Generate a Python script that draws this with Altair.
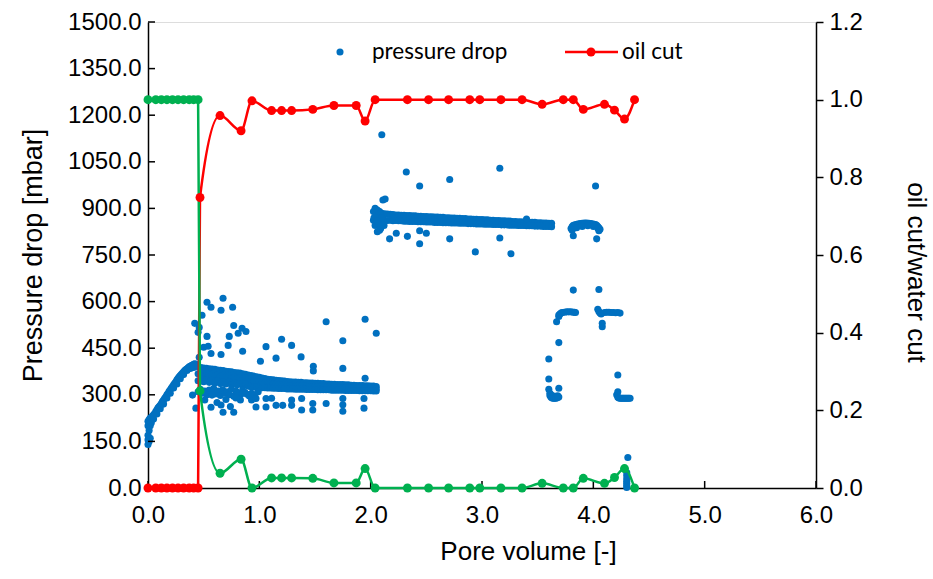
import altair as alt
import pandas as pd

# ---------------- pressure drop (mbar) vs pore volume ----------------
ramp_x = [0.00, 0.00, 0.00, 0.00, 0.00, 0.01, 0.01, 0.01, 0.02, 0.02, 0.02, 0.03, 0.03,
          0.04, 0.05, 0.06, 0.07, 0.08, 0.09, 0.10, 0.11, 0.12, 0.13, 0.14, 0.15, 0.16,
          0.17, 0.18, 0.19, 0.20, 0.21, 0.22, 0.23, 0.24, 0.25, 0.26, 0.27, 0.28, 0.29,
          0.30, 0.31, 0.32, 0.33, 0.34, 0.35, 0.36, 0.37, 0.38, 0.39, 0.40, 0.41, 0.42,
          0.43, 0.44]
ramp_y = [140, 155, 170, 200, 215, 150, 185, 220, 160, 200, 225, 210, 228,
          232, 236, 240, 246, 252, 258, 262, 266, 272, 278, 283, 289, 294,
          300, 305, 311, 316, 322, 327, 332, 337, 342, 348, 353, 358, 362,
          366, 370, 374, 378, 381, 384, 387, 390, 392, 394, 396, 398, 400,
          398, 395]
ramp2_x = [0.05, 0.08, 0.11, 0.14, 0.17, 0.20, 0.23, 0.26, 0.29, 0.32, 0.35, 0.38, 0.41]
ramp2_y = [222, 238, 255, 270, 290, 305, 322, 335, 352, 365, 378, 385, 388]

band2_x = [0.450, 0.475, 0.500, 0.525, 0.550, 0.575, 0.600, 0.625, 0.650, 0.675, 0.700,
           0.725, 0.750, 0.775, 0.800, 0.825, 0.850, 0.875, 0.900, 0.925, 0.950, 0.975,
           1.000, 1.025, 1.050, 1.075, 1.100, 1.125, 1.150, 1.175, 1.200, 1.225, 1.250,
           1.275, 1.300, 1.325, 1.350, 1.375, 1.400, 1.425, 1.450, 1.475, 1.500, 1.525,
           1.550, 1.575, 1.600, 1.625, 1.650, 1.675, 1.700, 1.725, 1.750, 1.775, 1.800,
           1.825, 1.850, 1.875, 1.900, 1.925, 1.950, 1.975, 2.000, 2.025, 2.050]
band2_top = [390, 388, 386, 385, 384, 383, 382, 380, 379, 378, 376, 375, 374, 372, 371, 370,
             368, 366, 364,
             362, 360, 358, 356, 354, 352, 350, 349, 348, 347, 346, 345, 344, 343, 342, 341,
             341, 340, 340, 339, 339, 338, 338, 337, 337, 336, 336, 335, 335, 334, 334, 333,
             333, 333, 332, 332, 331, 331, 330, 330, 330, 329, 329, 328, 328, 327]
band2_mid = [368, 372, 365, 370, 362, 366, 360, 364, 358, 362, 356, 360, 354, 357, 352, 355,
             350, 353, 348,
             344, 342, 341, 340, 339, 338, 337, 336, 335, 334, 333, 332, 332, 331, 330, 330,
             329, 329, 328, 328, 327, 327, 326, 326, 326, 325, 325, 325, 324, 324, 324, 323,
             323, 323, 322, 322, 322, 322, 321, 321, 321, 320, 320, 320, 320, 319]
band2_low = [345, 350, 342, 348, 340, 346, 338, 344, 336, 342, 335, 340, 333, 338, 332, 336,
             330, 334, 328,
             326, 325, 324, 324, 323, 323, 322, 322, 321, 321, 320, 320, 320, 319, 319, 319,
             318, 318, 318, 318, 317, 317, 317, 317, 316, 316, 316, 316, 316, 315, 315, 315,
             315, 315, 314, 314, 314, 314, 314, 313, 313, 313, 313, 313, 312, 312]
deep_x = [0.45, 0.47, 0.49, 0.51, 0.53, 0.55, 0.57, 0.59, 0.61, 0.63, 0.65, 0.67, 0.69, 0.71,
          0.73, 0.75, 0.77, 0.79, 0.81, 0.83, 0.85, 0.87, 0.89, 0.91, 0.93, 0.96, 0.99]
deep_y = [310, 318, 305, 312, 300, 315, 308, 320, 303, 312, 298, 316, 305, 310,
          300, 318, 295, 312, 306, 300, 315, 308, 302, 296, 305, 300, 310]
out2_x = [0.42, 0.45, 0.46, 0.485, 0.50, 0.53, 0.53, 0.54, 0.566, 0.566, 0.656, 0.656, 0.674,
          0.72, 0.73, 0.76, 0.77, 0.81, 0.845, 0.85, 0.88, 0.46, 1.01, 1.06, 1.15, 1.20,
          1.29, 1.375, 1.485, 1.485, 1.60, 1.75, 1.75, 1.95, 1.95, 2.05]
out2_y = [530, 501, 517, 556, 453, 598, 488, 456, 582, 433, 572, 430, 611,
          459, 488, 582, 523, 498, 514, 440, 504, 421, 408, 455, 418, 479,
          459, 422, 392, 377, 535, 474, 385, 543, 353, 498]
low2_x = [0.40, 0.43, 0.51, 0.566, 0.575, 0.656, 0.674, 0.77, 0.83, 0.85, 0.93, 0.97, 0.97,
          1.06, 1.06, 1.11, 1.15, 1.21, 1.29, 1.29, 1.38, 1.38, 1.48, 1.48, 1.60, 1.75,
          1.75, 1.75, 1.94, 1.94, 0.62, 0.70, 0.74, 0.79]
low2_y = [299, 257, 283, 260, 299, 267, 244, 244, 283, 305, 283, 288, 261,
          288, 261, 289, 266, 266, 283, 266, 288, 251, 272, 251, 272, 288,
          268, 247, 288, 257, 275, 285, 262, 290]

band3_x = [2.025, 2.050, 2.075, 2.100, 2.125, 2.150, 2.175, 2.200, 2.225, 2.250, 2.275,
           2.300, 2.325, 2.350, 2.375, 2.400, 2.425, 2.450, 2.475, 2.500, 2.525, 2.550,
           2.575, 2.600, 2.625, 2.650, 2.675, 2.700, 2.725, 2.750, 2.775, 2.800, 2.825,
           2.850, 2.875, 2.900, 2.925, 2.950, 2.975, 3.000, 3.025, 3.050, 3.075, 3.100,
           3.125, 3.150, 3.175, 3.200, 3.225, 3.250, 3.275, 3.300, 3.325, 3.350, 3.375,
           3.400, 3.425, 3.450, 3.475, 3.500, 3.525, 3.550, 3.575, 3.600, 3.625]
band3_top = [890, 888, 886, 884, 883, 882, 881, 880, 879, 879, 878, 878, 877, 877, 876, 876,
             875, 875, 874, 874, 873, 873, 872, 872, 871, 871, 870, 870, 869, 869, 868, 868,
             867, 867, 866, 866, 865, 865, 864, 864, 863, 863, 862, 862, 861, 861, 860, 860,
             859, 859, 858, 858, 857, 857, 856, 856, 855, 855, 855, 854, 854, 853, 853, 852,
             852]
band3_low = [862, 858, 862, 860, 862, 861, 862, 860, 861, 860, 860, 859, 859, 858, 858, 858,
             857, 857, 857, 856, 856, 856, 855, 855, 855, 854, 854, 854, 853, 853, 853, 852,
             852, 852, 851, 851, 851, 850, 850, 850, 849, 849, 849, 848, 848, 848, 847, 847,
             847, 846, 846, 846, 845, 845, 845, 844, 844, 844, 843, 843, 843, 842, 842, 842,
             841]
left3_x = [2.03, 2.04, 2.05, 2.06, 2.07, 2.08, 2.09, 2.10, 2.12, 2.04, 2.06, 2.08]
left3_y = [870, 845, 880, 895, 850, 890, 835, 870, 845, 900, 860, 830]
out3_x = [2.10, 2.32, 2.44, 2.71, 3.16, 2.11, 2.13, 2.06, 2.17, 2.23, 2.33, 2.44, 2.44,
          2.50, 2.71, 2.94, 3.16, 3.26, 3.40]
out3_y = [1137, 1017, 972, 993, 1029, 927, 930, 825, 802, 820, 810, 828, 786,
          820, 802, 760, 805, 754, 866]

band4_x = [3.80, 3.81, 3.82, 3.84, 3.86, 3.88, 3.90, 3.92, 3.94, 3.96, 3.98, 4.00, 4.02,
           4.03, 4.04, 4.05, 4.06, 3.81, 3.85, 3.90, 3.95, 4.00, 4.04, 4.05, 3.82, 4.03, 4.02]
band4_y = [835, 842, 846, 848, 850, 851, 852, 853, 853, 852, 851, 850, 848,
           846, 842, 838, 833, 830, 838, 842, 844, 842, 836, 828, 812, 802, 972]

clA_x = [3.60, 3.60, 3.60, 3.61, 3.61, 3.62, 3.63, 3.64, 3.65, 3.66, 3.67, 3.68, 3.69,
         3.62, 3.64, 3.66, 3.68, 3.69]
clA_y = [415, 351, 318, 305, 298, 292, 290, 289, 289, 289, 290, 291, 293,
         300, 296, 295, 297, 321]
clB_x = [3.67, 3.69, 3.69, 3.70, 3.71, 3.72, 3.74, 3.76, 3.78, 3.80, 3.82, 3.83, 3.84, 3.82, 3.69]
clB_y = [535, 552, 557, 560, 563, 565, 566, 567, 567, 567, 566, 566, 565, 637, 468]
clC_x = [4.05, 4.04, 4.05, 4.06, 4.07, 4.08, 4.08, 4.10, 4.12, 4.14, 4.16, 4.18, 4.20, 4.22, 4.24]
clC_y = [639, 575, 568, 563, 560, 519, 530, 565, 566, 566, 565, 565, 564, 565, 563]
clD_x = [4.22, 4.22, 4.21, 4.22, 4.23, 4.24, 4.25, 4.26, 4.27, 4.28, 4.29, 4.30, 4.31, 4.32, 4.33]
clD_y = [364, 310, 300, 292, 290, 289, 289, 289, 289, 289, 289, 289, 289, 289, 289]
clE_x = [4.31, 4.30, 4.30, 4.30, 4.30, 4.30, 4.30, 4.30]
clE_y = [98, 50, 40, 30, 22, 15, 8, 2]

# ---------------- oil cut / water cut ----------------
cut_x = [0.00, 0.07, 0.12, 0.17, 0.22, 0.27, 0.32, 0.37, 0.41, 0.45, 0.467, 0.647, 0.836,
         0.934, 1.11, 1.20, 1.29, 1.48, 1.67, 1.87, 1.95, 2.04, 2.33, 2.52, 2.70, 2.89,
         2.98, 3.17, 3.36, 3.54, 3.73, 3.82, 3.91, 4.10, 4.19, 4.28, 4.37]
oil_cut = [0, 0, 0, 0, 0, 0, 0, 0, 0, 0, 0.748, 0.959, 0.92,
           0.997, 0.972, 0.972, 0.972, 0.975, 0.985, 0.985, 0.945, 1.0, 1.0, 1.0, 1.0, 1.0,
           1.0, 1.0, 1.0, 0.988, 1.0, 1.0, 0.975, 0.988, 0.973, 0.95, 1.0]
water_cut = [1, 1, 1, 1, 1, 1, 1, 1, 1, 1, 0.25, 0.038, 0.074,
             0.0, 0.026, 0.026, 0.026, 0.025, 0.013, 0.013, 0.05, 0.0, 0.0, 0.0, 0.0, 0.0,
             0.0, 0.0, 0.0, 0.012, 0.0, 0.0, 0.025, 0.012, 0.027, 0.05, 0.0]

left_ticks = [0, 150, 300, 450, 600, 750, 900, 1050, 1200, 1350, 1500]
right_ticks = [0.0, 0.2, 0.4, 0.6, 0.8, 1.0, 1.2]
x_ticks = [0, 1, 2, 3, 4, 5, 6]

BLUE = "#0070C0"
RED = "#FF0000"
GREEN = "#00B050"
FONT = "Liberation Sans"

px = (ramp_x + ramp2_x + band2_x + band2_x + band2_x + deep_x + out2_x + low2_x + band3_x
      + band3_x + left3_x + out3_x + band4_x + clA_x + clB_x + clC_x + clD_x + clE_x)
py = (ramp_y + ramp2_y + band2_top + band2_mid + band2_low + deep_y + out2_y + low2_y
      + band3_top + band3_low + left3_y + out3_y + band4_y + clA_y + clB_y + clC_y + clD_y
      + clE_y)
df_p = pd.DataFrame({"x": px, "y": py})

df_c = pd.DataFrame({
    "x": cut_x + cut_x,
    "v": oil_cut + water_cut,
    "s": ["oil cut"] * len(cut_x) + ["water cut"] * len(cut_x),
    "i": list(range(len(cut_x))) * 2,
})

W, H = 668, 466
xs = alt.Scale(domain=[0, 6], nice=False, zero=True, padding=0)
ysl = alt.Scale(domain=[0, 1500], nice=False, padding=0)
ysr = alt.Scale(domain=[0, 1.2], nice=False, padding=0)

common = dict(domainColor="black", domainWidth=1.5, labelFont=FONT, labelFontSize=24,
              titleFont=FONT, titleFontWeight="normal", labelFlush=False,
              labelColor="black", titleColor="black", grid=False)
x_axis = alt.Axis(values=x_ticks, format=".1f", title="Pore volume [-]", tickSize=0,
                  labelPadding=15, titleFontSize=26, titleX=380, titleY=63,
                  titleBaseline="middle", **common)
yl_axis = alt.Axis(values=left_ticks, format=".1f", title="Pressure drop [mbar]", tickSize=0,
                   labelPadding=7, titlePadding=20, titleFontSize=27, **common)
yr_axis = alt.Axis(values=right_ticks, format=".1f", title="oil cut/water cut", orient="right",
                   tickSize=7, tickWidth=1.5, tickColor="black", labelPadding=6,
                   titlePadding=40, titleFontSize=26, titleY=250, **common)

scatter = alt.Chart(df_p).mark_circle(size=50, color=BLUE, opacity=1).encode(
    x=alt.X("x:Q", scale=xs, axis=x_axis),
    y=alt.Y("y:Q", scale=ysl, axis=yl_axis),
)
lt = alt.Chart(pd.DataFrame({"y": left_ticks})).mark_rule(color="black", strokeWidth=1.5).encode(
    y=alt.Y("y:Q", scale=ysl, axis=yl_axis),
    x=alt.value(0), x2=alt.value(7),
)
bt = alt.Chart(pd.DataFrame({"x": x_ticks})).mark_rule(color="black", strokeWidth=1.5).encode(
    x=alt.X("x:Q", scale=xs, axis=x_axis),
    y=alt.value(H), y2=alt.value(H - 7),
)
left = alt.layer(scatter, lt, bt)

cscale = alt.Scale(domain=["oil cut", "water cut"], range=[RED, GREEN])
lines = alt.Chart(df_c).mark_line(interpolate="monotone", strokeWidth=2.5).encode(
    x=alt.X("x:Q", scale=xs, axis=x_axis),
    y=alt.Y("v:Q", scale=ysr, axis=yr_axis),
    color=alt.Color("s:N", scale=cscale, legend=None),
    order=alt.Order("i:Q"),
)
pts = alt.Chart(df_c).mark_circle(size=80, opacity=1).encode(
    x=alt.X("x:Q", scale=xs, axis=x_axis),
    y=alt.Y("v:Q", scale=ysr, axis=yr_axis),
    color=alt.Color("s:N", scale=cscale, legend=None),
)
right = alt.layer(lines, pts)

one = pd.DataFrame({"a": [0]})
LY = 30
leg = alt.layer(
    alt.Chart(one).mark_circle(size=50, color=BLUE, opacity=1).encode(
        x=alt.value(192), y=alt.value(LY)),
    alt.Chart(one).mark_text(align="left", baseline="middle", font="Lato", fontSize=22.5,
                             color="black").encode(
        x=alt.value(224), y=alt.value(LY), text=alt.value("pressure drop")),
    alt.Chart(one).mark_rule(color=RED, strokeWidth=2.5).encode(
        x=alt.value(417), x2=alt.value(470), y=alt.value(LY)),
    alt.Chart(one).mark_circle(size=80, color=RED, opacity=1).encode(
        x=alt.value(443), y=alt.value(LY)),
    alt.Chart(one).mark_text(align="left", baseline="middle", font="Lato", fontSize=22.5,
                             color="black").encode(
        x=alt.value(474), y=alt.value(LY), text=alt.value("oil cut")),
)

chart = alt.layer(left, right, leg).resolve_scale(y="independent").properties(
    width=W, height=H,
    autosize=alt.AutoSizeParams(type="none"),
    padding={"left": 148, "top": 22, "right": 117, "bottom": 91},
).configure_view(strokeOpacity=0).configure(background="white")

chart.save("out.html", embed_options={"renderer": "svg", "actions": False})
